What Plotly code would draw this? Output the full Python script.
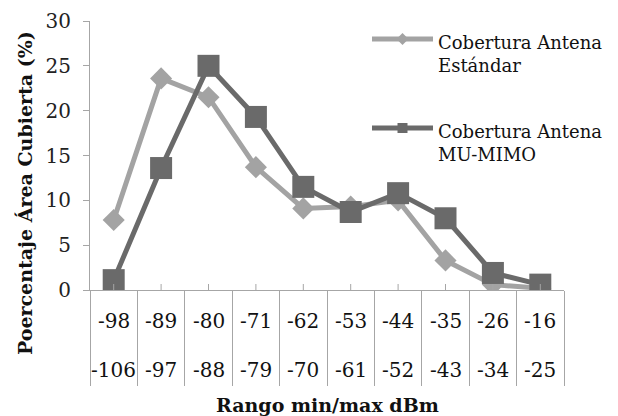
import plotly.graph_objects as go

# Signal ranges (dBm): upper and lower bound of each bin
rango_max = ["-98", "-89", "-80", "-71", "-62", "-53", "-44", "-35", "-26", "-16"]
rango_min = ["-106", "-97", "-88", "-79", "-70", "-61", "-52", "-43", "-34", "-25"]

# Covered area (%) per signal range
estandar = [7.8, 23.6, 21.5, 13.7, 9.1, 9.3, 10.0, 3.3, 0.6, 0.2]
mu_mimo = [1.1, 13.6, 25.0, 19.3, 11.5, 8.7, 10.8, 8.0, 1.9, 0.6]

series_names = ["Cobertura Antena<br>Estándar", "Cobertura Antena<br>MU-MIMO"]
y_title = "Poercentaje Área Cubierta (%)"
x_title = "Rango min/max dBm"

C_EST = "#a3a3a3"
C_MU = "#6a6a6a"
AXIS_C = "#a6a6a6"
SERIF = "'DejaVu Serif', 'Liberation Serif', serif"

W, H = 618, 416
M_L, M_R, M_T, M_B = 90, 54, 21, 126
PW, PH = W - M_L - M_R, H - M_T - M_B


def px_x(px):
    return (px - M_L) / PW


def px_y(py):
    return (H - M_B - py) / PH


fig = go.Figure()
fig.add_trace(go.Scatter(
    x=rango_max, y=estandar, mode="lines+markers", name=series_names[0],
    line=dict(color=C_EST, width=5),
    marker=dict(symbol="diamond", size=17, color=C_EST),
    showlegend=False,
))
fig.add_trace(go.Scatter(
    x=rango_max, y=mu_mimo, mode="lines+markers", name=series_names[1],
    line=dict(color=C_MU, width=5),
    marker=dict(symbol="square", size=22, color=C_MU),
    showlegend=False,
))

shapes = []
annotations = []

# Small inner ticks at category centres
for i in range(len(rango_max)):
    shapes.append(dict(type="line", xref="x", yref="paper", x0=i, x1=i,
                       y0=0, y1=6 / PH, line=dict(color=AXIS_C, width=1)))

# Two-row category labels (upper / lower bound)
for i, (a, b) in enumerate(zip(rango_max, rango_min)):
    annotations.append(dict(xref="x", yref="paper", x=i, y=px_y(320.5),
                            text=a, showarrow=False, yanchor="middle",
                            font=dict(family=SERIF, size=20, color="#111")))
    annotations.append(dict(xref="x", yref="paper", x=i, y=px_y(369.5),
                            text=b, showarrow=False, yanchor="middle",
                            font=dict(family=SERIF, size=20, color="#111")))

# Axis titles
annotations.append(dict(xref="paper", yref="paper", x=px_x(327), y=px_y(405),
                        text=f"<b>{x_title}</b>", showarrow=False,
                        xanchor="center", yanchor="middle",
                        font=dict(family=SERIF, size=19, color="#111")))
annotations.append(dict(xref="paper", yref="paper", x=px_x(25), y=px_y(193),
                        text=f"<b>{y_title}</b>", showarrow=False, textangle=-90,
                        xanchor="center", yanchor="middle",
                        font=dict(family=SERIF, size=19, color="#111")))

# Legend drawn by hand: line with a small marker, then a two-line label
legend_rows = [(39, 54, C_EST, "diamond"), (128, 142.5, C_MU, "square")]
for (ly, ty, col, sym), name in zip(legend_rows, series_names):
    shapes.append(dict(type="line", xref="paper", yref="paper",
                       x0=px_x(372), x1=px_x(433), y0=px_y(ly), y1=px_y(ly),
                       line=dict(color=col, width=5)))
    cx, cy = px_x(402.5), px_y(ly)
    if sym == "diamond":
        dx, dy = 6 / PW, 6 / PH
        path = (f"M {cx - dx},{cy} L {cx},{cy + dy} L {cx + dx},{cy} "
                f"L {cx},{cy - dy} Z")
    else:
        dx, dy = 5 / PW, 5 / PH
        path = (f"M {cx - dx},{cy - dy} L {cx - dx},{cy + dy} "
                f"L {cx + dx},{cy + dy} L {cx + dx},{cy - dy} Z")
    shapes.append(dict(type="path", xref="paper", yref="paper", path=path,
                       fillcolor=col, line=dict(width=0)))
    annotations.append(dict(xref="paper", yref="paper", x=px_x(436), y=px_y(ty),
                            text=name, showarrow=False, xanchor="left",
                            yanchor="middle", align="left",
                            font=dict(family=SERIF, size=18, color="#111")))

fig.update_layout(
    width=W, height=H,
    margin=dict(l=M_L, r=M_R, t=M_T, b=M_B, autoexpand=False),
    paper_bgcolor="white", plot_bgcolor="white",
    showlegend=False,
    shapes=shapes, annotations=annotations,
    xaxis=dict(type="category", range=[-0.5, len(rango_max) - 0.5],
               showline=True, linecolor=AXIS_C, linewidth=1,
               ticks="outside", tickson="boundaries", ticklen=95,
               tickcolor=AXIS_C, tickwidth=1, showticklabels=False,
               showgrid=False, zeroline=False, fixedrange=True),
    yaxis=dict(range=[0, 30], tickmode="array",
               tickvals=[0, 5, 10, 15, 20, 25, 30],
               showline=True, linecolor=AXIS_C, linewidth=1,
               ticks="outside", ticklen=6, tickcolor=AXIS_C,
               tickfont=dict(family=SERIF, size=20, color="#222"),
               ticklabelstandoff=8,
               showgrid=False, zeroline=False, fixedrange=True),
)

fig.write_html("out.html", config={"displayModeBar": False})
